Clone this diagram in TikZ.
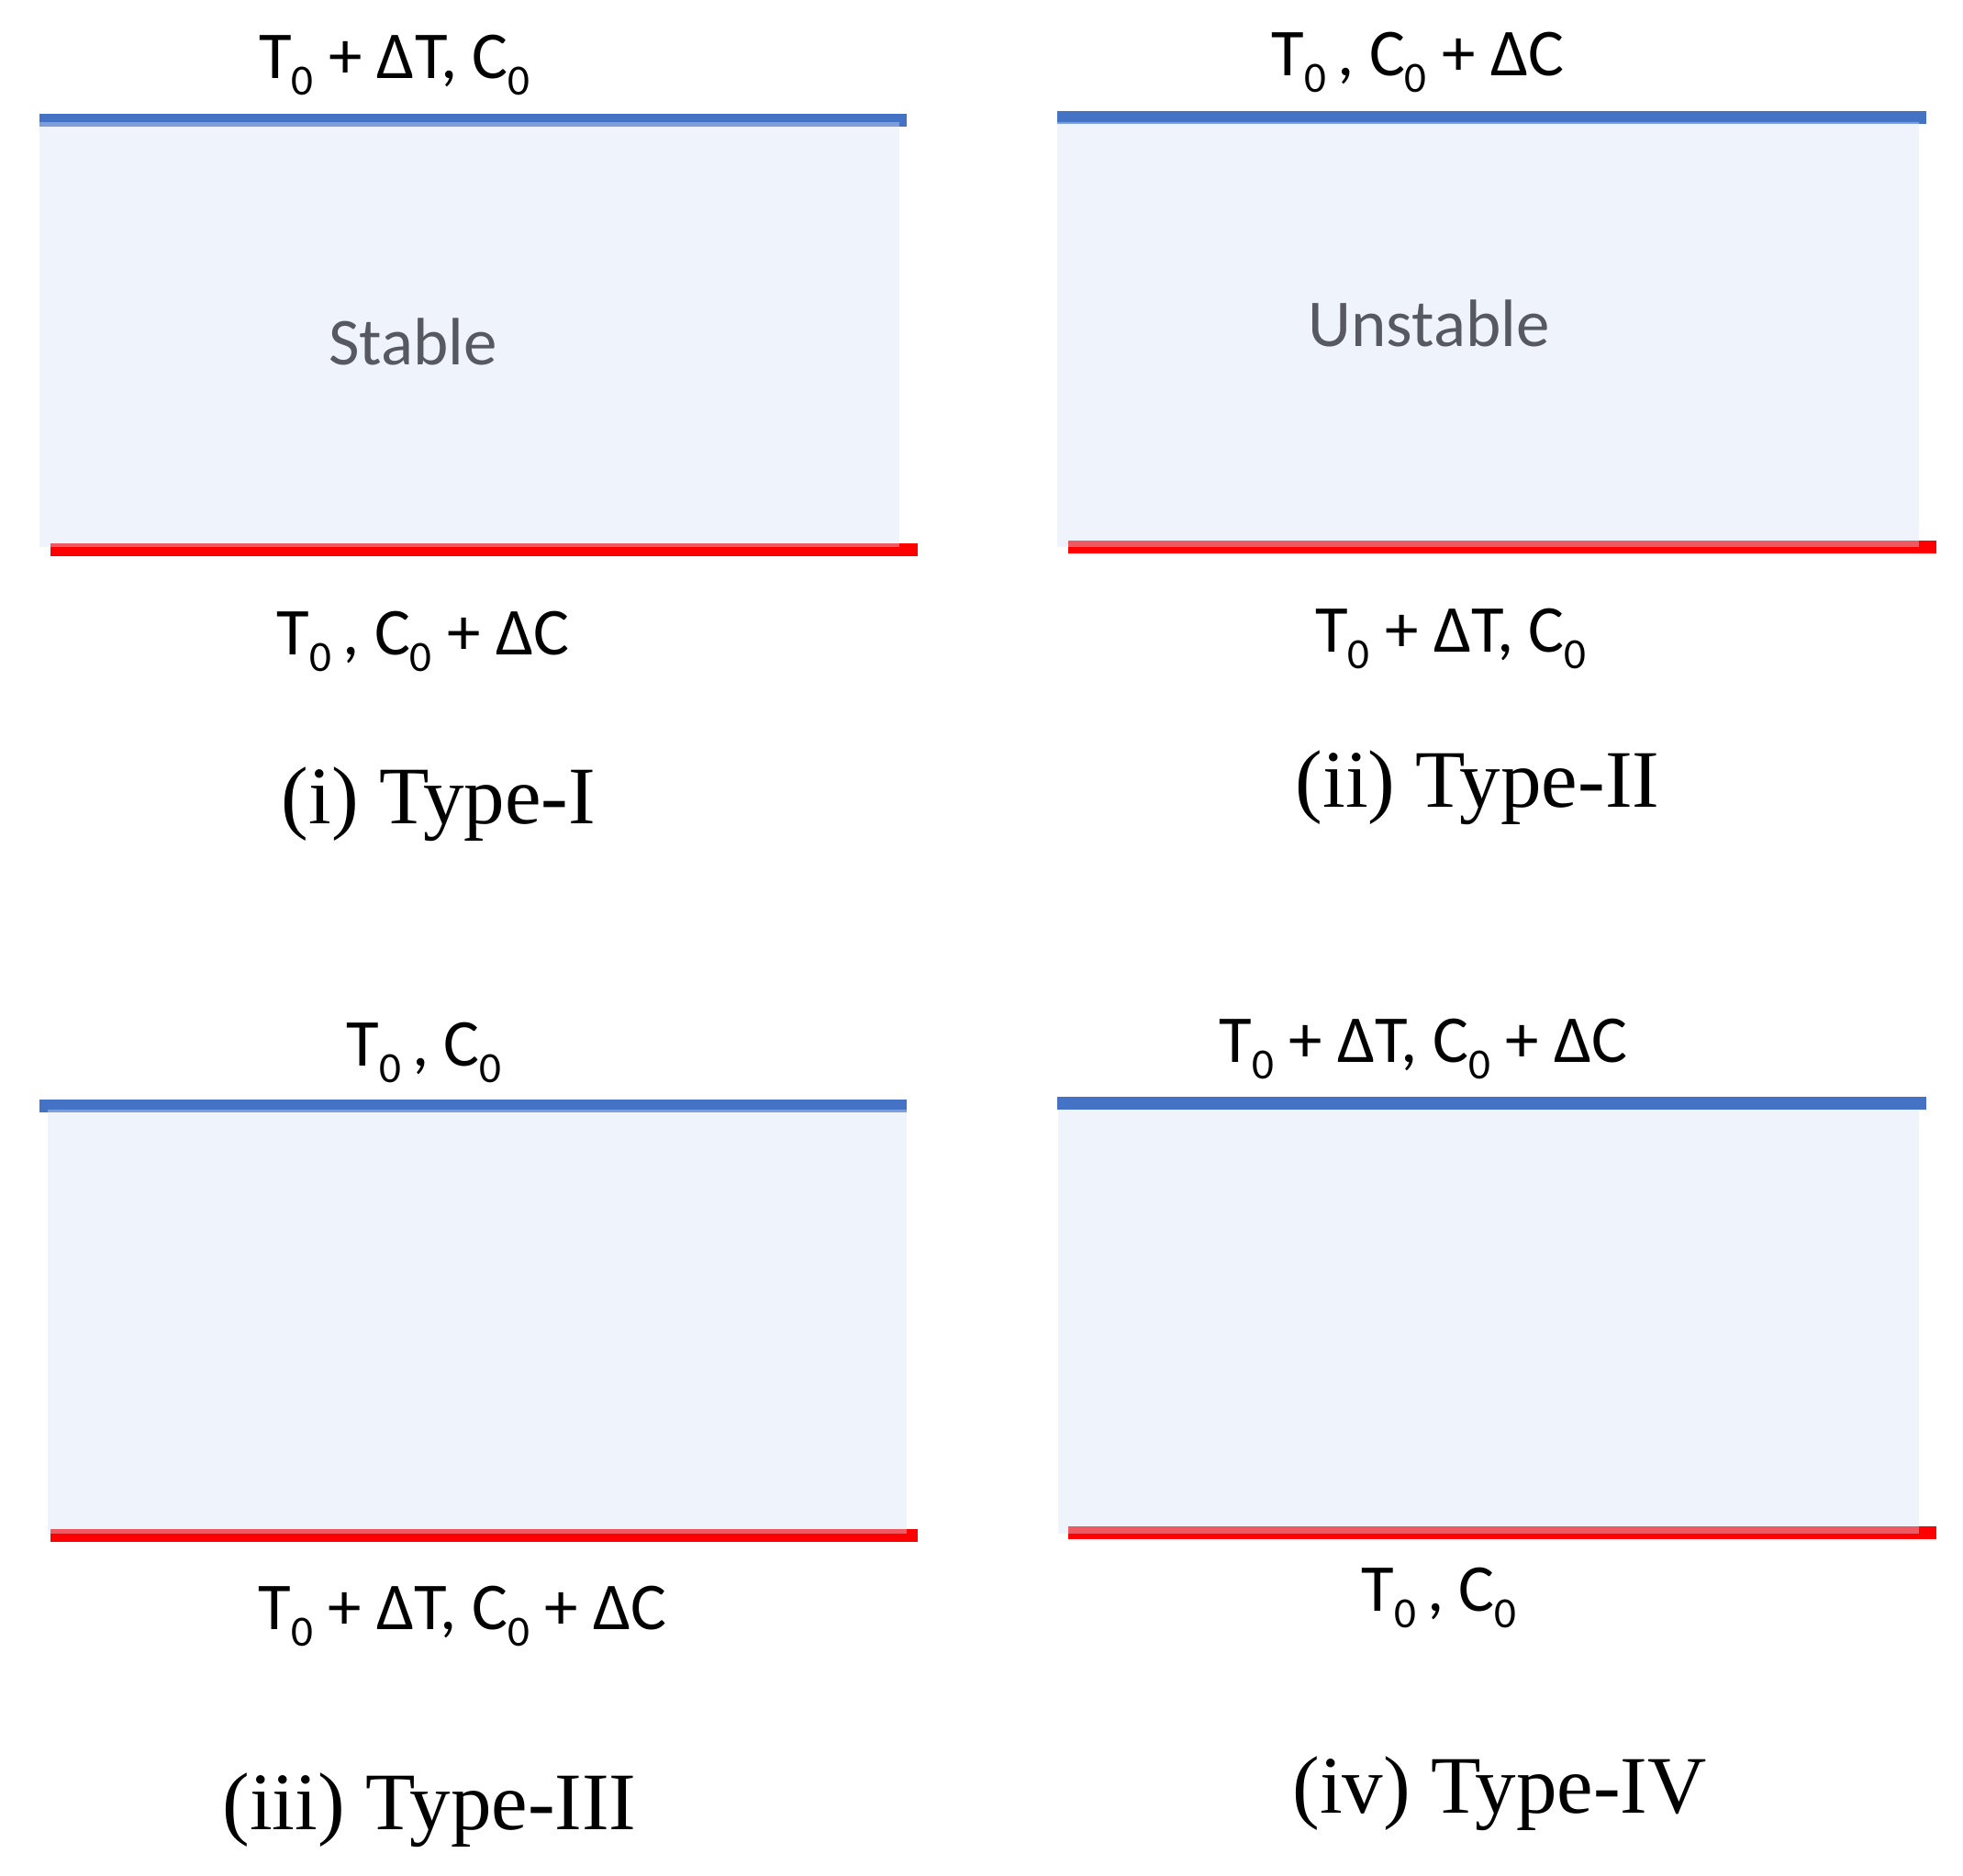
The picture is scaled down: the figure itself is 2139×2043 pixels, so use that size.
\documentclass[tikz,border=0pt]{standalone}
\usepackage{fontspec}
\setmainfont{Liberation Serif}
\newfontfamily\calib{Carlito}
\usepackage{graphicx}
\newcommand\lowsub[1]{\raisebox{-9pt}{\fontsize{23.5pt}{24pt}\selectfont #1}}
\definecolor{lineblue}{HTML}{4472C4}
\definecolor{linered}{HTML}{FF0000}
\definecolor{layerfill}{RGB}{215,225,245}
\definecolor{stategray}{RGB}{86,89,97}
\begin{document}
\begin{tikzpicture}[x=0.5pt,y=-0.5pt,
  cond/.style={font=\calib\fontsize{36.5pt}{40pt}\selectfont, inner sep=0pt, anchor=base},
  statelbl/.style={font=\calib\fontsize{36.5pt}{40pt}\selectfont, text=stategray, inner sep=0pt, anchor=base},
  capt/.style={font=\fontsize{44.5pt}{48pt}\selectfont, inner sep=0pt, anchor=base},
  cold/.style={fill=lineblue, draw=none},
  hot/.style={fill=linered, draw=none},
  layer/.style={fill=layerfill, fill opacity=0.4, draw=none}]
\fill[white] (0,0) rectangle (2139,2043);
\useasboundingbox (0,0) rectangle (2139,2043);

% ---- Panel (i)
\fill[cold] (43,124) rectangle (988,138);
\fill[hot] (55,592) rectangle (1000,606);
\fill[layer] (43,133) rectangle (980,596);
\node[cond] (p1top) at (430,86) {T\lowsub{0} + ΔT, C\lowsub{0}};
\node[cond] (p1bot) at (461,713) {T\lowsub{0}\,, C\lowsub{0} + ΔC};
\node[statelbl] (p1state) at (450,398) {Stable};
\node[capt] (p1cap) at (478,897) {(i) Type-I};

% ---- Panel (ii)
\fill[cold] (1152,121) rectangle (2099,135);
\fill[hot] (1164,589) rectangle (2110,603);
\fill[layer] (1152,133) rectangle (2091,596);
\node[cond] (p2top) at (1545,83) {T\lowsub{0}\,, C\lowsub{0} + ΔC};
\node[cond] (p2bot) at (1581,710) {T\lowsub{0} + ΔT, C\lowsub{0}};
\node[statelbl] (p2state) at (1557,378) {Unstable};
\node[capt] (p2cap) at (1610,879) {(ii) Type-II};

% ---- Panel (iii)
\fill[cold] (43,1198) rectangle (988,1212);
\fill[hot] (55,1666) rectangle (1000,1680);
\fill[layer] (52,1209) rectangle (988,1671);
\node[cond] (p3top) at (462,1161) {T\lowsub{0}\,, C\lowsub{0}};
\node[cond] (p3bot) at (504,1775) {T\lowsub{0} + ΔT, C\lowsub{0} + ΔC};
\node[capt] (p3cap) at (468,1993) {(iii) Type-III};

% ---- Panel (iv)
\fill[cold] (1152,1195) rectangle (2099,1209);
\fill[hot] (1164,1663) rectangle (2110,1677);
\fill[layer] (1153,1209) rectangle (2091,1671);
\node[cond] (p4top) at (1551,1157) {T\lowsub{0} + ΔT, C\lowsub{0} + ΔC};
\node[cond] (p4bot) at (1568,1755) {T\lowsub{0}\,, C\lowsub{0}};
\node[capt] (p4cap) at (1634,1975) {(iv) Type-IV};
\end{tikzpicture}
\end{document}
